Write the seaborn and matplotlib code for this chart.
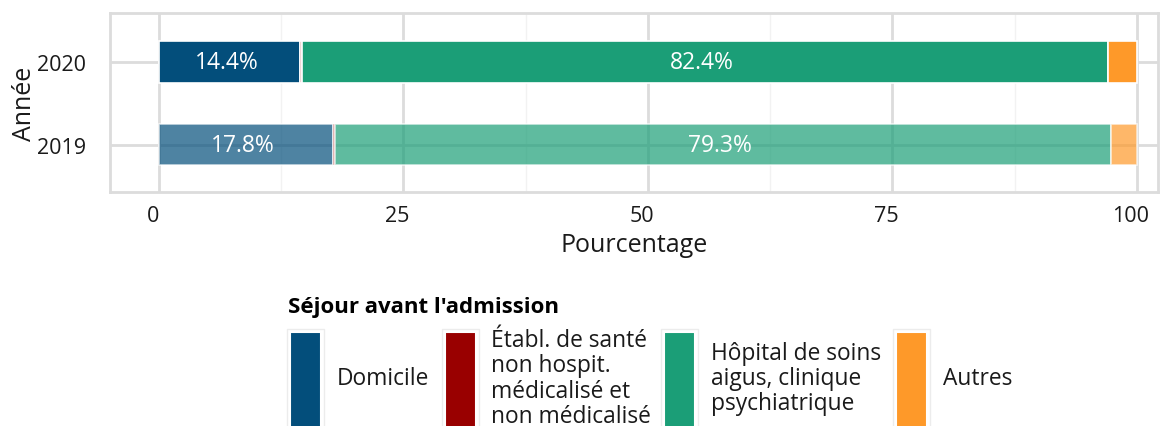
import matplotlib
matplotlib.use("Agg")
import matplotlib.pyplot as plt
import seaborn as sns
import pandas as pd
import numpy as np
from matplotlib.patches import Rectangle
from matplotlib.ticker import MultipleLocator
from matplotlib.transforms import ScaledTranslation

years = ["2019", "2020"]
categories = ["Domicile",
              "Établ. de santé\nnon hospit.\nmédicalisé et\nnon médicalisé",
              "Hôpital de soins\naigus, clinique\npsychiatrique",
              "Autres"]
values_2019 = [17.8, 0.2, 79.3, 2.7]
values_2020 = [14.4, 0.2, 82.4, 3.0]
colors = ["#034e7b", "#990000", "#1b9e77", "#fe9929"]
year_alpha = {"2019": 0.7, "2020": 1.0}

df = pd.DataFrame({
    "Année": np.repeat(years, len(categories)),
    "cat": categories * len(years),
    "val": values_2019 + values_2020,
})

sns.set_theme(style="white")
plt.rcParams["font.family"] = ["Open Sans", "DejaVu Sans"]
TICK_FS = 15.5
TITLE_FS = 18
BAR_FS = 16.5
LEG_FS = 16.4
LEGT_FS = 16

fig = plt.figure(figsize=(11.74, 4.27), dpi=100)
ax = fig.add_axes([110/1174, 1-193/427, (1158-110)/1174, (193-14)/427])

grid_major = "#dcdcdc"
bar_shift = ScaledTranslation(-3/100, 0, fig.dpi_scale_trans)
for i, yr in enumerate(years):
    sub = df[df["Année"] == yr]
    left = 0.0
    for j, (c, v) in enumerate(zip(sub["cat"], sub["val"])):
        ax.barh(i, v, left=left, height=0.5, color=colors[j], alpha=year_alpha[yr],
                edgecolor="white", linewidth=1.2, zorder=3)
        if v > 10:
            ax.text(left + v/2, i, f"{v:.1f}%", color="white", ha="center", va="center",
                    fontsize=BAR_FS, zorder=4, transform=ax.transData + bar_shift)
        left += v

ax.set_xlim(-5.0, 102.15)
ax.set_ylim(-0.57, 1.59)
ax.set_yticks(range(len(years)))
ax.set_yticklabels(years)
ax.xaxis.set_major_locator(MultipleLocator(25))
ax.xaxis.set_minor_locator(MultipleLocator(12.5))
ax.grid(True, which="major", axis="both", color=grid_major, linewidth=2, zorder=0)
ax.grid(True, which="minor", axis="x", color="#f2f2f2", linewidth=1, zorder=0)
ax.set_axisbelow(True)
for s in ax.spines.values():
    s.set_color(grid_major)
    s.set_linewidth(2)
ax.tick_params(axis="both", which="major", length=5, width=2, color=grid_major,
               labelsize=TICK_FS, labelcolor="#1a1a1a")
ax.tick_params(axis="y", which="major", pad=12)
ax.tick_params(axis="x", which="major", pad=4)
ax.tick_params(axis="x", which="minor", length=0)
tick_shift = ScaledTranslation(-6/100, 0, fig.dpi_scale_trans)
for lab in ax.get_xticklabels():
    lab.set_transform(lab.get_transform() + tick_shift)
ax.set_xlabel("Pourcentage", fontsize=TITLE_FS, color="#1a1a1a", labelpad=5)
ax.set_ylabel("Année", fontsize=TITLE_FS, color="#1a1a1a", labelpad=0)

# Legend (manual, below the plot)
fig.text(288/1174, 1-308/427, "Séjour avant l'admission", fontsize=LEGT_FS, fontweight="bold",
         ha="left", va="center", color="black")
key_x = [290, 445, 664, 896]
label_x = [337, 491, 711, 943]
key_top, key_bot, key_w = 333, 430, 31
for kx, lx, c, lab in zip(key_x, label_x, colors, categories):
    fig.add_artist(Rectangle(((kx-3)/1174, 1-(key_bot+3)/427), (key_w+6)/1174,
                             (key_bot-key_top+6)/427, transform=fig.transFigure,
                             facecolor="white", edgecolor="#ececec", linewidth=1))
    fig.add_artist(Rectangle((kx/1174, 1-key_bot/427), key_w/1174, (key_bot-key_top)/427,
                             transform=fig.transFigure, facecolor=c, edgecolor="white",
                             linewidth=1.5))
    fig.text(lx/1174, 1-379/427, lab, fontsize=LEG_FS, ha="left", va="center",
             linespacing=1.08, color="#1a1a1a")

fig.savefig("out.png", dpi=100)
